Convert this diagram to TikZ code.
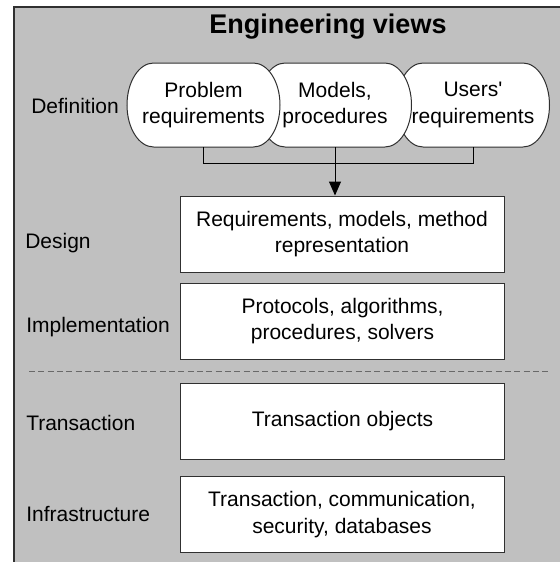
\documentclass[tikz,border=0pt]{standalone}
\usepackage{fontspec}
\setmainfont{Liberation Sans}[Ligatures=TeXOff]
\usetikzlibrary{arrows.meta}
\definecolor{panel}{HTML}{C0C0C0}
\definecolor{rule}{HTML}{303030}
\begin{document}
\begin{tikzpicture}[x=0.75pt,y=-0.75pt,
  every node/.style={font=\fontsize{15.75pt}{20pt}\selectfont, text=black},
  layer/.style={anchor=base west, inner sep=0pt},
  % pill with elliptical ends, drawn inside the node's own box
  source/.style={minimum width=116.25pt, minimum height=64.5pt, inner sep=0pt, align=center,
    path picture={
      \draw[rule, fill=white, line width=0.75pt]
        ([shift={(20.75pt,-0.75pt)}]path picture bounding box.north west)
        -- ([shift={(-20.75pt,-0.75pt)}]path picture bounding box.north east)
        arc[start angle=90, end angle=-90, x radius=20pt, y radius=31.5pt]
        -- ([shift={(20.75pt,0.75pt)}]path picture bounding box.south west)
        arc[start angle=270, end angle=90, x radius=20pt, y radius=31.5pt]
        -- cycle;}},
  viewbox/.style={draw=rule, line width=0.75pt, fill=white,
    minimum width=243pt, minimum height=57pt, inner sep=0pt, align=center},
  link/.style={draw=black, line width=0.75pt},
  flow/.style={link, -{Triangle[length=10.5pt,width=9pt]}}]
  \useasboundingbox (0,0) rectangle (560,562);
  % grey panel, cut off at the right and bottom edges
  \begin{scope}
    \clip (0,0) rectangle (560,562);
    \fill[panel] (14,7) rectangle (580,580);
    \draw[rule, line width=1.4pt] (14,580) -- (14,7) -- (580,7);
  \end{scope}
  \node[font=\fontsize{20.25pt}{24pt}\selectfont\bfseries] (title) at (328,27) {Engineering views};
  % definition sources, overlapping from right to left
  \node[source] (users) at (473,105) {Users'\\requirements};
  \node[source] (models) at (335,105) {Models,\\procedures};
  \node[source] (problem) at (203.5,105) {Problem\\requirements};
  % view layers
  \node[viewbox] (design) at (342,234) {Requirements, models, method\\representation};
  \node[viewbox] (impl) at (342.5,321) {Protocols, algorithms,\\procedures, solvers};
  \node[viewbox] (trans) at (342.5,421.5) {Transaction objects};
  \node[viewbox] (infra) at (342,514.5) {Transaction, communication,\\security, databases};
  % layer names
  \node[layer] (ldef) at (31,113) {Definition};
  \node[layer] (ldes) at (25,248) {Design};
  \node[layer] (limp) at (26,332) {Implementation};
  \node[layer] (ltra) at (26,430) {Transaction};
  \node[layer] (linf) at (26,521) {Infrastructure};
  % merging connector
  \coordinate (join) at ([yshift=-11.25pt]models.south);
  \draw[link] ([yshift=0.75pt]problem.south) |- (join) -| ([yshift=0.75pt]users.south);
  \draw[flow] ([yshift=0.75pt]models.south) -- (join |- design.north);
  % separator between engineering and transaction layers
  \coordinate (sepl) at (29,371);
  \coordinate (sepr) at (550,371);
  \draw[draw={rgb,255:red,105;green,105;blue,105}, line width=0.75pt, dash pattern=on 4.5pt off 2.5pt] (sepl) -- (sepr);
\end{tikzpicture}
\end{document}
